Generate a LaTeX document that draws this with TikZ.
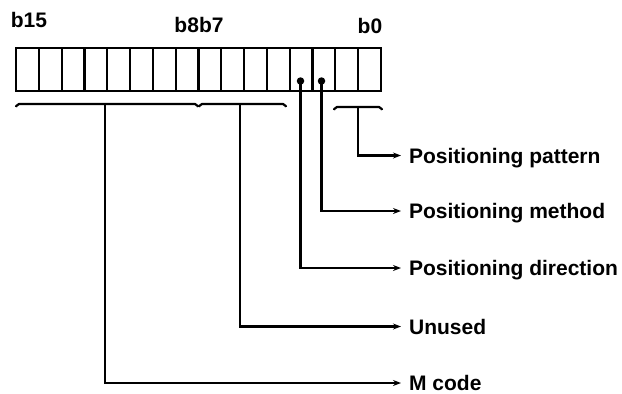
\documentclass[tikz,border=0pt]{standalone}
\usepackage{fontspec}
\setmainfont{Liberation Sans}
\usetikzlibrary{arrows.meta,calc}
\begin{document}
\begin{tikzpicture}[x=1pt,y=-1pt,
  line width=2.2pt,
  cell/.style={draw,minimum width=22.8125pt,minimum height=43pt,inner sep=0pt,outer sep=0pt},
  lbl/.style={font=\fontsize{21pt}{24pt}\bfseries\selectfont,inner sep=0pt,text height=15pt,text depth=0pt,anchor=west},
  bitlbl/.style={font=\fontsize{21pt}{24pt}\bfseries\selectfont,inner sep=0pt,anchor=base},
  arr/.style={-{Stealth[length=8pt,width=6pt]},shorten >=7pt},
  bracket/.style={rounded corners=2pt},
  dotmark/.style={circle,fill,inner sep=0pt,minimum size=7.5pt}]
\useasboundingbox (0,0) rectangle (622,394);
% register cells b15 ... b0
\foreach \i in {0,...,15}{
  \node[cell] (r\i) at ({16+(15-\i+0.5)*22.8125},69.5) {};
}
% bit labels
\node[bitlbl] (l15) at (29,27) {b15};
\node[bitlbl] (l87) at (199,32) {b8b7};
\node[bitlbl] (l0) at (370,33) {b0};
% dots
\node[dotmark] (d3) at (300.5,81) {};
\node[dotmark] (d2) at (321.5,81) {};
% brackets
\draw[bracket] (16,107) -- (17,104) -- (197,104) -- (198,107);
\coordinate (bA) at (105,104);
\draw[bracket] (199,107) -- (200,104) -- (285,104) -- (286,107);
\coordinate (bB) at (240,104);
\draw[bracket] (334,110) -- (335,107) -- (381,107) -- (382,110);
\coordinate (bC) at (358,107);
% texts
\node[lbl] (tpat) at (408,155.5) {Positioning pattern};
\node[lbl] (tmet) at (408,211) {Positioning method};
\node[lbl] (tdir) at (408,268) {Positioning direction};
\node[lbl] (tun)  at (408,326.5) {Unused};
\node[lbl] (tm)   at (408,383) {M code};
% connectors
\draw[arr] (bC) |- (tpat.west);
\draw[arr] (d2.center) |- (tmet.west);
\draw[arr] (d3.center) |- (tdir.west);
\draw[arr] (bB) |- (tun.west);
\draw[arr] (bA) |- (tm.west);
\end{tikzpicture}
\end{document}
